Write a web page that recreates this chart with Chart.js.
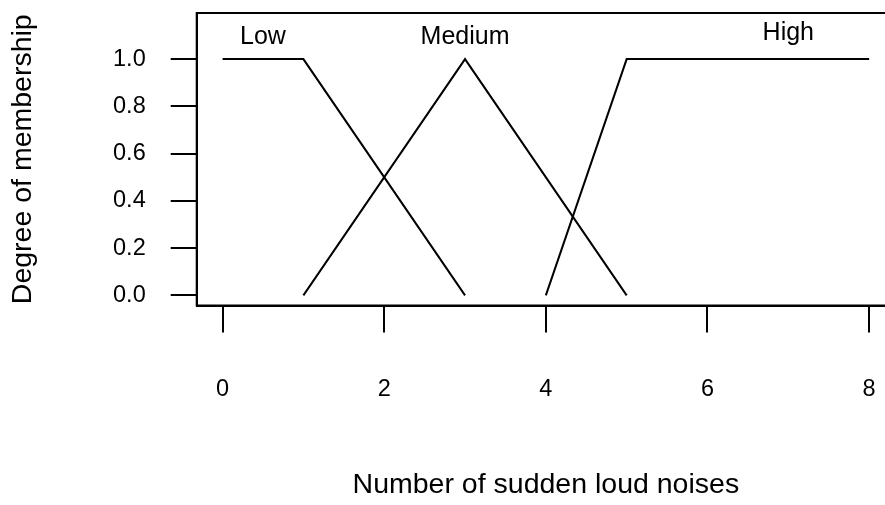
<!DOCTYPE html>
<html>
<head>
<meta charset="utf-8">
<title>Fuzzy membership</title>
<script src="https://cdn.jsdelivr.net/npm/chart.js@4"></script>
<style>
  html, body { margin: 0; padding: 0; background: #fff; overflow: hidden; }
  #wrap { position: relative; width: 920px; height: 505px; }
</style>
</head>
<body>
<div id="wrap"><canvas id="chart"></canvas></div>
<script>
// -------------------------
// Data
// -------------------------
const xTicks = [0, 2, 4, 6, 8];
const yTicks = [0, 0.2, 0.4, 0.6, 0.8, 1.0];

const lowX = [0, 1, 3];
const lowY = [1, 1, 0];
const mediumX = [1, 3, 5];
const mediumY = [0, 1, 0];
const highX = [4, 5, 8];
const highY = [0, 1, 1];

const setNames = ["Low", "Medium", "High"];
const setLabelX = [0.5, 3, 7];
const setLabelY = [1.095, 1.095, 1.11];

// -------------------------
// Helpers
// -------------------------
const FONT = "'Liberation Sans', Arial, Helvetica, sans-serif";
const toPoints = (xs, ys) => xs.map((x, i) => ({ x, y: ys[i] }));

const series = (pts) => ({
  data: pts,
  borderColor: "#000",
  borderWidth: 2,
  pointRadius: 0,
  tension: 0,
  fill: false
});

// box round the plot area + set names
const boxPlugin = {
  id: "box",
  afterDraw(chart) {
    const { ctx, chartArea: a, scales } = chart;
    ctx.save();
    ctx.strokeStyle = "#000";
    ctx.lineWidth = 2;
    ctx.strokeRect(a.left, a.top, a.right - a.left, a.bottom - a.top);

    ctx.fillStyle = "#000";
    ctx.font = `25px ${FONT}`;
    ctx.textAlign = "center";
    ctx.textBaseline = "middle";
    setNames.forEach((name, i) => {
      ctx.fillText(name, scales.x.getPixelForValue(setLabelX[i]), scales.y.getPixelForValue(setLabelY[i]));
    });
    ctx.restore();
  }
};

// -------------------------
// Chart
// -------------------------
new Chart(document.getElementById("chart"), {
  type: "line",
  data: {
    datasets: [
      series(toPoints(lowX, lowY)),
      series(toPoints(mediumX, mediumY)),
      series(toPoints(highX, highY))
    ]
  },
  options: {
    responsive: true,
    maintainAspectRatio: false,
    animation: false,
    layout: { padding: { top: 13, right: 25, left: 0, bottom: 0 } },
    plugins: { legend: { display: false }, tooltip: { enabled: false } },
    scales: {
      x: {
        type: "linear",
        min: -0.32,
        max: 8.32,
        afterBuildTicks: s => { s.ticks = xTicks.map(v => ({ value: v })); },
        afterFit: s => { s.height = 199.5; s.paddingLeft = 0; s.paddingRight = 0; },
        grid: { drawOnChartArea: false, drawTicks: true, tickLength: 27, color: "#000", lineWidth: 2 },
        border: { display: true, color: "#000", width: 2 },
        ticks: { color: "#000", padding: 43, maxRotation: 0, font: { family: FONT, size: 23.5 } },
        title: {
          display: true,
          text: "Number of sudden loud noises",
          color: "#000",
          padding: { top: 0, bottom: 3 },
          font: { family: FONT, size: 28.5 }
        }
      },
      y: {
        min: -0.043,
        max: 1.195,
        afterBuildTicks: s => { s.ticks = yTicks.map(v => ({ value: v })); },
        afterFit: s => { s.width = 196.7; s.paddingTop = 0; s.paddingBottom = 0; },
        grid: { drawOnChartArea: false, drawTicks: true, tickLength: 26, color: "#000", lineWidth: 2 },
        border: { display: true, color: "#000", width: 2 },
        ticks: {
          color: "#000",
          padding: 25,
          font: { family: FONT, size: 23.5 },
          callback: v => v.toFixed(1)
        },
        title: {
          display: true,
          text: "Degree of membership",
          color: "#000",
          padding: { top: 6, bottom: 0 },
          font: { family: FONT, size: 28.5 }
        }
      }
    }
  },
  plugins: [boxPlugin]
});
</script>
</body>
</html>
